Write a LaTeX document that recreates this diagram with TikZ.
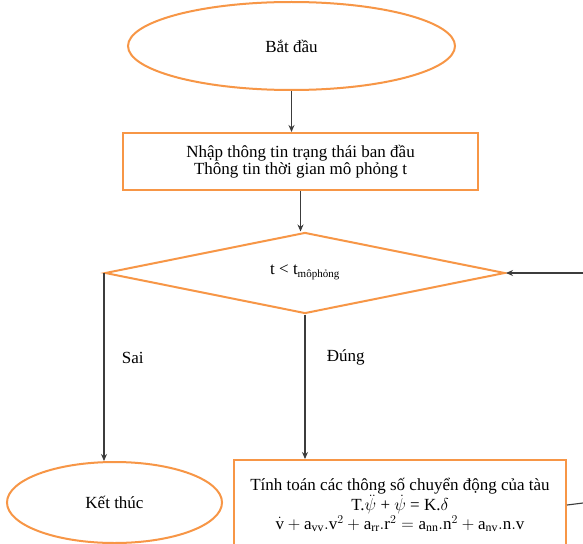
\documentclass[tikz,border=0pt]{standalone}
\usepackage{fontspec}
\setmainfont{Liberation Serif}
\usetikzlibrary{shapes.geometric, arrows.meta}
\definecolor{boxorange}{RGB}{247,150,70}
\definecolor{linegray}{RGB}{60,60,60}

\begin{document}
\begin{tikzpicture}[x=1pt, y=-1pt,
    every node/.style={font=\fontsize{17}{17}\selectfont, align=center},
    shapeline/.style={draw=boxorange, line width=2pt},
    flow/.style={draw=linegray, line width=1.1pt, -{Stealth[length=7pt,width=6pt]}},
    plain/.style={draw=linegray, line width=1.1pt}]
            \fill[white] (0,0) rectangle (583,543);
            \useasboundingbox (0,0) rectangle (583,543);
            \clip (0,0) rectangle (583,543);
            % shapes
            \node[shapeline, ellipse, minimum width=327, minimum height=88] (start) at (291.5,46) {Bắt đầu};
            \node[shapeline, rectangle, minimum width=355, minimum height=57] (input) at (300.5,161.5) {\raisebox{-3pt}{\parbox{300pt}{\centering Nhập thông tin trạng thái ban đầu\\Thông tin thời gian mô phỏng t}}};
            \node[shapeline, diamond, aspect=4.9, inner sep=0pt, minimum width=400, minimum height=81] (check) at (305,273) {\raisebox{6pt}{t < t\textsubscript{\fontsize{11}{11}\selectfont môphỏng}}};
            \node[shapeline, ellipse, minimum width=215, minimum height=81] (stop) at (114.5,502.5) {Kết thúc};
            \node[shapeline, rectangle, minimum width=332, minimum height=90, font=\fontsize{17}{18.5}\selectfont] (calc) at (400,505) {Tính toán các thông số chuyển động của tàu\\
                T.$\ddot{\psi}$ + $\dot{\psi}$ = K.$\delta$\\
                $\dot{\mathrm{v}} + \mathrm{a}_{\mathrm{vv}}.\mathrm{v}^2 + \mathrm{a}_{\mathrm{rr}}.\mathrm{r}^2 = \mathrm{a}_{\mathrm{nn}}.\mathrm{n}^2 + \mathrm{a}_{\mathrm{nv}}.\mathrm{n}.\mathrm{v}$};
            \coordinate (loopout) at (583,503);
            \coordinate (loopin) at (583,273);
            % connectors
            \draw[flow] (start.south) -- (start.south |- input.north);
            \draw[flow] (input.south) -- (input.south |- check.north);
            \draw[flow] (check.west) -- (check.west |- stop.north) node[pos=0.45, right=14pt] {Sai};
            \draw[flow] (check.south) -- (check.south |- calc.north) node[pos=0.3, right=18pt] {Đúng};
            \draw[plain] (calc.east) -- (loopout);
            \draw[flow] (loopin) -- (check.east);
        \end{tikzpicture}
\end{document}
